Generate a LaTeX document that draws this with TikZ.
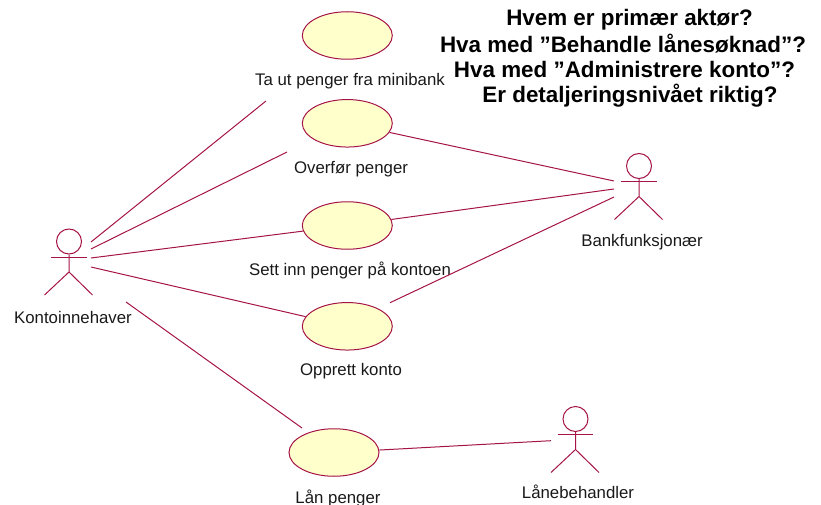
\documentclass[tikz,border=0pt]{standalone}
\usepackage{fontspec}
\setmainfont{Liberation Sans}
\usetikzlibrary{shapes.geometric}
\definecolor{umlline}{RGB}{165,20,72}
\definecolor{umlfill}{RGB}{255,255,204}
\tikzset{
  usecase/.style={ellipse,draw=umlline,fill=umlfill,line width=1pt,minimum width=90pt,minimum height=47.5pt,inner sep=0pt},
  lbl/.style={font=\fontsize{16.8pt}{19pt}\selectfont,text=black!90,inner sep=0pt,anchor=base},
  conn/.style={draw=umlline,line width=1pt},
  headc/.style={circle,draw=umlline,line width=1pt,minimum size=25pt,inner sep=0pt},
  title/.style={font=\bfseries\fontsize{22.4pt}{26pt}\selectfont,inner sep=0pt,anchor=base}
}
\newcommand{\stickman}[3]{% x,y of head centre, name
  \node[headc] (#3) at (#1,#2) {};
  \draw[conn] (#1-18,#2+15.5) -- (#1+17.5,#2+15.5);
  \draw[conn] (#3.south) -- (#1,#2+30.5) -- (#1-24.5,#2+53.5);
  \draw[conn] (#1,#2+30.5) -- (#1+23.5,#2+53.5);
}
\begin{document}
\begin{tikzpicture}[x=1pt,y=-1pt]
\useasboundingbox (0,0) rectangle (821,505);
\node[usecase] (u1) at (347.3,35.5) {};
\node[usecase] (u2) at (347.3,123.3) {};
\node[usecase] (u3) at (347.3,225.5) {};
\node[usecase] (u4) at (347.3,326.3) {};
\node[usecase] (u5) at (334,452.5) {};
\node[lbl] (t1) at (350,85.3) {Ta ut penger fra minibank};
\node[lbl] (t2) at (351,173.3) {Overfør penger};
\node[lbl] (t3) at (350,275.8) {Sett inn penger på kontoen};
\node[lbl] (t4) at (351,375.8) {Opprett konto};
\node[lbl] (t5) at (338,503) {Lån penger};
\stickman{69}{241.5}{ka}
\stickman{639}{166}{ba}
\stickman{575.5}{419}{la}
\node[lbl] (tk) at (73,323) {Kontoinnehaver};
\node[lbl] (tb) at (642,246.5) {Bankfunksjonær};
\node[lbl] (tl) at (578,498.5) {Lånebehandler};
\node[title] (q1) at (629.5,26) {Hvem er primær aktør?};
\node[title] (q2) at (623,52.2) {Hva med ”Behandle lånesøknad”?};
\node[title] (q3) at (624.5,78) {Hva med ”Administrere konto”?};
\node[title] (q4) at (630,102.5) {Er detaljeringsnivået riktig?};
\coordinate (k1) at (91,242);
\coordinate (k2) at (91,249);
\coordinate (k3) at (91,258);
\coordinate (k4) at (91,267);
\coordinate (k5) at (126,302);
\coordinate (e1) at (266,101);
\coordinate (e2) at (287,152);
\coordinate (e4) at (390,302.7);
\coordinate (e5) at (302,428);
\coordinate (b1) at (614,181);
\coordinate (b2) at (614,189);
\coordinate (b3) at (614,197);
\coordinate (l1) at (551,440.7);
\draw[conn] (k1) -- (e1);
\draw[conn] (k2) -- (e2);
\draw[conn] (k3) -- (u3);
\draw[conn] (k4) -- (u4);
\draw[conn] (k5) -- (e5);
\draw[conn] (u2) -- (b1);
\draw[conn] (u3) -- (b2);
\draw[conn] (e4) -- (b3);
\draw[conn] (u5) -- (l1);
\end{tikzpicture}
\end{document}
